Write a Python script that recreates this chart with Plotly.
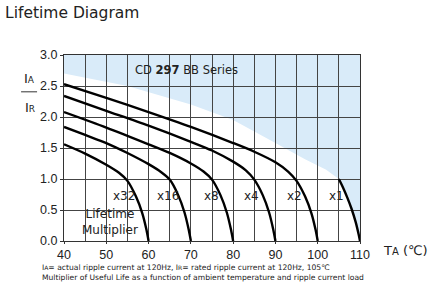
import plotly.graph_objects as go

# ---- data ----
x32_t = [40, 45, 50, 53, 55, 57, 58.5, 59.5, 60]
x32_v = [1.56, 1.41, 1.23, 1.10, 0.97, 0.72, 0.45, 0.18, 0.0]

x16_t = [40, 45, 50, 55, 60, 63, 65, 67, 68.5, 69.5, 70]
x16_v = [1.84, 1.71, 1.58, 1.42, 1.24, 1.11, 0.99, 0.74, 0.46, 0.18, 0.0]

x8_t = [40, 50, 60, 65, 70, 73, 75, 77, 78.5, 79.5, 80]
x8_v = [2.08, 1.83, 1.56, 1.42, 1.25, 1.12, 0.99, 0.74, 0.46, 0.18, 0.0]

x4_t = [40, 50, 60, 70, 75, 80, 83, 85, 87, 88.5, 89.5, 90]
x4_v = [2.34, 2.10, 1.86, 1.60, 1.46, 1.28, 1.14, 0.99, 0.74, 0.46, 0.18, 0.0]

x2_t = [40, 50, 60, 70, 80, 85, 90, 93, 95, 97, 98.5, 99.5, 100]
x2_v = [2.53, 2.31, 2.08, 1.84, 1.58, 1.44, 1.27, 1.12, 0.97, 0.72, 0.45, 0.18, 0.0]

x1_t = [105, 106, 107, 108, 109, 109.7, 110]
x1_v = [1.0, 0.86, 0.70, 0.52, 0.30, 0.10, 0.0]

# upper limit of the safe area (blue area lies above it)
limit_t = [40, 55, 70, 80, 90, 97, 102, 105]
limit_v = [2.70, 2.50, 2.20, 1.95, 1.58, 1.32, 1.15, 1.0]

curves = [
    ("x32", x32_t, x32_v),
    ("x16", x16_t, x16_v),
    ("x8", x8_t, x8_v),
    ("x4", x4_t, x4_v),
    ("x2", x2_t, x2_v),
    ("x1", x1_t, x1_v),
]
label_t = [54.2, 64.5, 74.8, 84.4, 94.4, 104.4]
label_v = 0.72

x_ticks = [40, 50, 60, 70, 80, 90, 100, 110]
y_ticks = [0.0, 0.5, 1.0, 1.5, 2.0, 2.5, 3.0]

FONT = "DejaVu Sans"
TICKFONT = "Liberation Sans"
TXT = "#222222"

fig = go.Figure()

# blue region path (data coordinates)
pts = list(zip(limit_t, limit_v)) + list(zip(x1_t[1:], x1_v[1:])) + [(110, 3.0), (40, 3.0)]
path = "M " + " L ".join(f"{t},{v}" for t, v in pts) + " Z"
fig.add_shape(type="path", path=path, xref="x", yref="y",
              fillcolor="#d9ebf9", line=dict(width=0), layer="below")

for name, t, v in curves:
    fig.add_trace(go.Scatter(x=t, y=v, mode="lines", name=name,
                             line=dict(color="black", width=2.4, shape="spline", smoothing=0.8),
                             hoverinfo="skip", showlegend=False))

for (name, _, _), lt in zip(curves, label_t):
    fig.add_annotation(x=lt, y=label_v, text=name, showarrow=False,
                       font=dict(family=FONT, size=12, color=TXT))

fig.add_annotation(x=50.9, y=0.30, text="Lifetime<br>Multiplier", showarrow=False,
                   font=dict(family=FONT, size=12, color=TXT))

fig.add_annotation(x=69, y=2.76, text="CD <b>297</b> BB Series", showarrow=False,
                   font=dict(family=FONT, size=11.5, color=TXT))

fig.update_xaxes(range=[40, 110], tickvals=x_ticks,
                 showgrid=True, gridcolor="#444444", gridwidth=1,
                 minor=dict(dtick=5, showgrid=True, gridcolor="#444444", gridwidth=1),
                 showline=True, linecolor="#333333", linewidth=1, mirror=True,
                 ticks="outside", ticklen=2, tickcolor="#333333",
                 tickfont=dict(family=TICKFONT, size=12.5, color=TXT), zeroline=False,
                 fixedrange=True)
fig.update_yaxes(range=[0, 3], tickvals=y_ticks, tickformat=".1f",
                 showgrid=True, gridcolor="#444444", gridwidth=1,
                 showline=True, linecolor="#333333", linewidth=1, mirror=True,
                 ticks="outside", ticklen=3, tickcolor="#333333",
                 tickfont=dict(family=TICKFONT, size=12.5, color=TXT), zeroline=False,
                 fixedrange=True)

# title
fig.add_annotation(xref="paper", yref="paper", x=-0.207, y=1.0, yshift=53,
                   xanchor="left", yanchor="top", text="Lifetime Diagram", showarrow=False,
                   font=dict(family=FONT, size=15.5, color=TXT))

# y axis label I_A / I_R
fig.add_annotation(xref="paper", yref="paper", x=-0.115, y=0.876, xanchor="center",
                   yanchor="middle",
                   text="I<span style='font-size:9px'>A</span>", showarrow=False,
                   font=dict(family=FONT, size=13, color=TXT))
fig.add_shape(type="line", xref="paper", yref="paper", x0=-0.145, x1=-0.091,
              y0=0.802, y1=0.802, line=dict(color="#333333", width=1))
fig.add_annotation(xref="paper", yref="paper", x=-0.115, y=0.72, xanchor="center",
                   yanchor="middle",
                   text="I<span style='font-size:9px'>R</span>", showarrow=False,
                   font=dict(family=FONT, size=13, color=TXT))

# x axis label
fig.add_annotation(xref="paper", yref="paper", x=1.07, y=0.0, yshift=-9, xanchor="left",
                   yanchor="middle",
                   text="T<span style='font-size:10px'>A</span> (℃)", showarrow=False,
                   font=dict(family=FONT, size=13, color=TXT))

# footnotes
fig.add_annotation(xref="paper", yref="paper", x=-0.08, y=0.0, yshift=-26,
                   xanchor="left", yanchor="middle",
                   text="I<span style='font-size:6px'>A</span>= actual ripple current at 120Hz, "
                        "I<span style='font-size:6px'>R</span>= rated ripple current at 120Hz, 105℃",
                   showarrow=False, font=dict(family=FONT, size=7.6, color=TXT))
fig.add_annotation(xref="paper", yref="paper", x=-0.08, y=0.0, yshift=-36,
                   xanchor="left", yanchor="middle",
                   text="Multiplier of Useful Life as a function of ambient temperature and ripple current load",
                   showarrow=False, font=dict(family=FONT, size=7.6, color=TXT))

fig.update_layout(width=447, height=295,
                  margin=dict(l=64, r=87, t=55, b=54),
                  paper_bgcolor="white", plot_bgcolor="white",
                  showlegend=False)

fig.write_html("out.html")
